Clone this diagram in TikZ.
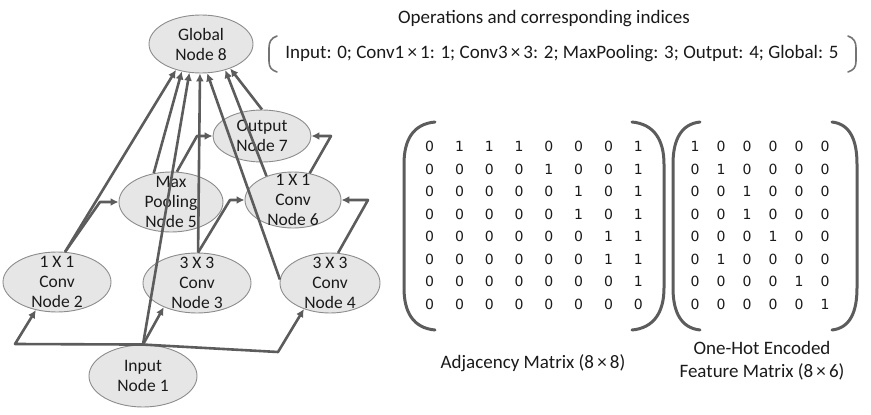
\documentclass[tikz,border=0pt]{standalone}
\usepackage{fontspec}
\setmainfont{Carlito}
\newfontfamily\numfont{DejaVu Sans}
\usetikzlibrary{shapes.geometric,arrows.meta,matrix}
\definecolor{edgegray}{HTML}{5C5C5C}
\definecolor{nodefill}{HTML}{E6E6E6}
\definecolor{nodeline}{HTML}{8C8C8C}
\definecolor{txt}{HTML}{1A1A1A}
\begin{document}
\begin{tikzpicture}[x=1pt,y=-1pt,
  opnode/.style={ellipse, draw=nodeline, line width=0.9pt, fill=nodefill, inner sep=0pt},
  optext/.style={text=txt, align=center, inner sep=0pt, font=\fontsize{17.5}{20}\selectfont},
  conn/.style={draw=edgegray, line width=2.6pt, -{Latex[length=8pt,width=8pt]}, line join=round},
  paren/.style={draw=edgegray, line width=3pt, line cap=round},
  thinparen/.style={draw=edgegray!85, line width=1.6pt, line cap=round},
  lbl/.style={text=txt, font=\fontsize{19}{23}\selectfont, align=center, inner sep=0pt},
  numcell/.style={inner sep=0pt, minimum height=22.5pt, anchor=center, text=txt, font=\numfont\fontsize{14}{16}\selectfont}
]
\useasboundingbox (0,0) rectangle (871,415);

% operation nodes
\node[opnode, minimum width=104pt, minimum height=58pt, label={[optext]center:{Global\\Node 8}}] (n8) at (201,44) {};
\node[opnode, minimum width=98pt, minimum height=52pt, label={[optext]center:{Output\\Node 7}}] (n7) at (262,136) {};
\node[opnode, minimum width=104pt, minimum height=60pt, label={[optext]center:{Max\\Pooling\\Node 5}}] (n5) at (171,202) {};
\node[opnode, minimum width=96pt, minimum height=56pt, label={[optext]center:{1 X 1\\Conv\\Node 6}}] (n6) at (293,200) {};
\node[opnode, minimum width=108pt, minimum height=60pt, label={[optext]center:{1 X 1\\Conv\\Node 2}}] (n2) at (57,282) {};
\node[opnode, minimum width=108pt, minimum height=60pt, label={[optext]center:{3 X 3\\Conv\\Node 3}}] (n3) at (197,283) {};
\node[opnode, minimum width=100pt, minimum height=60pt, label={[optext]center:{3 X 3\\Conv\\Node 4}}] (n4) at (330,283) {};
\node[opnode, minimum width=108pt, minimum height=62pt, label={[optext]center:{Input\\Node 1}}] (n1) at (143,376) {};

% bend points
\coordinate (b25) at (100,202);
\coordinate (b36) at (230,200);
\coordinate (b46) at (368,200);
\coordinate (b57) at (197,136);
\coordinate (b67) at (331,136);
\coordinate (b12) at (15,344);
\coordinate (b14) at (278,352);

% edges to global node
\draw[conn] (n2.75) -- (n8.226);
\draw[conn] (n5.121) -- (n8.235);
\draw[conn] (n1.north) -- (n8.248);
\draw[conn] (n3.88) -- (n8.268);
\draw[conn] (n4.176) -- (n8.282);
\draw[conn] (n6.138) -- (n8.313);
\draw[conn] (n7.north) -- (n8.320);

% other edges
\draw[conn] (n2.75) -- (b25) -- (n5.west);
\draw[conn] (n3.88) -- (b36) -- (n6.west);
\draw[conn] (n4.75) -- (b46) -- (n6.east);
\draw[conn] (n5.79) -- (b57) -- (n7.west);
\draw[conn] (n6.58) -- (b67) -- (n7.east);
\draw[conn] (n1.north) -- (b12) -- (n2.233);
\draw[conn] (n1.north) -- (b14) -- (n4.225);
\draw[conn] (n1.north) -- (n3.216);

% header
\node[lbl] (hdr) at (544,19) {Operations and corresponding indices};
\node[lbl] (ops) at (562,54) {Input: 0; Conv1\,×\,1: 1; Conv3\,×\,3: 2; MaxPooling: 3; Output: 4; Global: 5};
\draw[thinparen] (277,36) .. controls (271,38) and (269,42) .. (269,48) -- (269,61) .. controls (269,67) and (271,70) .. (277,72);
\draw[thinparen] (848,36) .. controls (854,38) and (856,42) .. (856,48) -- (856,61) .. controls (856,67) and (854,70) .. (848,72);

% adjacency matrix
\matrix (adj) [matrix of nodes, nodes={numcell, minimum width=29.8pt}, column sep=0pt, row sep=0pt] at (534,225.5) {
0 & 1 & 1 & 1 & 0 & 0 & 0 & 1 \\
0 & 0 & 0 & 0 & 1 & 0 & 0 & 1 \\
0 & 0 & 0 & 0 & 0 & 1 & 0 & 1 \\
0 & 0 & 0 & 0 & 0 & 1 & 0 & 1 \\
0 & 0 & 0 & 0 & 0 & 0 & 1 & 1 \\
0 & 0 & 0 & 0 & 0 & 0 & 1 & 1 \\
0 & 0 & 0 & 0 & 0 & 0 & 0 & 1 \\
0 & 0 & 0 & 0 & 0 & 0 & 0 & 0 \\
};
\draw[paren] (435,122) .. controls (413,124) and (404,140) .. (404,164) -- (404,288) .. controls (404,312) and (413,328) .. (435,330);
\draw[paren] (632,122) .. controls (654,124) and (664,140) .. (664,164) -- (664,288) .. controls (664,312) and (654,328) .. (632,330);

% feature matrix
\matrix (feat) [matrix of nodes, nodes={numcell, minimum width=26pt}, column sep=0pt, row sep=0pt] at (760,225.5) {
1 & 0 & 0 & 0 & 0 & 0 \\
0 & 1 & 0 & 0 & 0 & 0 \\
0 & 0 & 1 & 0 & 0 & 0 \\
0 & 0 & 1 & 0 & 0 & 0 \\
0 & 0 & 0 & 1 & 0 & 0 \\
0 & 1 & 0 & 0 & 0 & 0 \\
0 & 0 & 0 & 0 & 1 & 0 \\
0 & 0 & 0 & 0 & 0 & 1 \\
};
\draw[paren] (700,122) .. controls (681,124) and (673,140) .. (673,164) -- (673,288) .. controls (673,312) and (681,328) .. (700,330);
\draw[paren] (832,122) .. controls (850,124) and (857,140) .. (857,164) -- (857,288) .. controls (857,312) and (850,328) .. (832,330);

% labels
\node[lbl] (adjl) at (533,363) {Adjacency Matrix (8\,×\,8)};
\node[lbl] (featl) at (762,361) {One-Hot Encoded\\Feature Matrix (8\,×\,6)};
\end{tikzpicture}
\end{document}
